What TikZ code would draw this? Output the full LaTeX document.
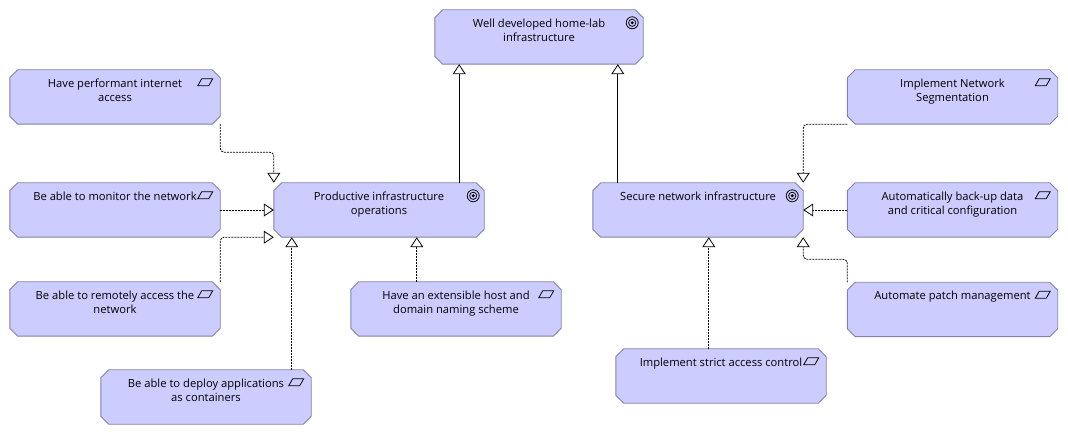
\documentclass[tikz,border=0pt]{standalone}
\usepackage{fontspec}
\setmainfont{Open Sans}
\usetikzlibrary{arrows.meta,calc,backgrounds}
\definecolor{boxfill}{RGB}{204,204,255}
\definecolor{boxline}{RGB}{130,130,170}
\newcommand\chamf[1]{%
  \filldraw[boxst] ($(#1.north west)+(8,0)$) -- ($(#1.north east)+(-8,0)$) -- ($(#1.north east)+(0,8)$) -- ($(#1.south east)+(0,-8)$) -- ($(#1.south east)+(-8,0)$) -- ($(#1.south west)+(8,0)$) -- ($(#1.south west)+(0,-8)$) -- ($(#1.north west)+(0,8)$) -- cycle;}
\newcommand\reqicon[1]{%
  \draw[icon] ($(#1.north east)+(-22.5,16)$) -- ($(#1.north east)+(-18.5,9)$) -- ($(#1.north east)+(-7.5,9)$) -- ($(#1.north east)+(-11.5,16)$) -- cycle;}
\newcommand\goalicon[1]{%
  \draw[icon] ($(#1.north east)+(-11,13)$) circle[radius=6];
  \draw[icon] ($(#1.north east)+(-11,13)$) circle[radius=3.6];
  \fill ($(#1.north east)+(-11,13)$) circle[radius=1.6];}
\begin{document}
\begin{tikzpicture}[x=1pt,y=-1pt,
  elem/.style={rectangle, draw=none, inner sep=0pt, minimum width=210pt, minimum height=54pt},
  txt/.style={anchor=north, yshift=-8.5pt, align=center, inner sep=0pt, font=\fontsize{11.2}{14}\selectfont},
  boxst/.style={fill=boxfill, draw=boxline, line width=0.9pt},
  icon/.style={draw=black, line width=0.8pt},
  real/.style={draw=black, line width=0.8pt, dash pattern=on 2pt off 1pt, rounded corners=4pt, -{Triangle[open, length=10pt, width=13pt, line width=0.8pt]}},
  spec/.style={draw=black, line width=0.8pt, -{Triangle[open, length=10pt, width=13pt, line width=0.8pt]}}]
\useasboundingbox (0,0) rectangle (1068,435);

\node[elem, minimum width=208pt] (well) at (539,37) {};
\node[elem] (perf) at (115,97) {};
\node[elem] (mon) at (115,210) {};
\node[elem] (prod) at (379,210) {};
\node[elem] (remote) at (115,309) {};
\node[elem] (deploy) at (206,397) {};
\node[elem] (ext) at (456,309) {};
\node[elem] (secure) at (698,210) {};
\node[elem] (seg) at (952.5,97) {};
\node[elem] (backup) at (952.5,210) {};
\node[elem] (patch) at (952.5,309.5) {};
\node[elem] (strict) at (721,376) {};

\begin{pgfonlayer}{background}
  \fill[white] (0,0) rectangle (1068,435);
  \foreach \n in {well,perf,mon,prod,remote,deploy,ext,secure,seg,backup,patch,strict} {\chamf{\n}}
\end{pgfonlayer}

\node[txt] at (well.north) {Well developed home-lab\\infrastructure};
\node[txt] at (perf.north) {Have performant internet\\access};
\node[txt] at (mon.north) {Be able to monitor the network};
\node[txt] at (prod.north) {Productive infrastructure\\operations};
\node[txt] at (remote.north) {Be able to remotely access the\\network};
\node[txt] at (deploy.north) {Be able to deploy applications\\as containers};
\node[txt] at (ext.north) {Have an extensible host and\\domain naming scheme};
\node[txt] at (secure.north) {Secure network infrastructure};
\node[txt] at (seg.north) {Implement Network\\Segmentation};
\node[txt] at (backup.north) {Automatically back-up data\\and critical configuration};
\node[txt] at (patch.north) {Automate patch management};
\node[txt] at (strict.north) {Implement strict access control};

\goalicon{well}
\goalicon{prod}
\goalicon{secure}
\foreach \n in {perf,mon,remote,deploy,ext,seg,backup,patch,strict} {\reqicon{\n}}

% connectors
\draw[real] (perf.east |- perf.south) -- ++(0,28) -| (prod.west |- prod.north);
\draw[real] (mon.east) -- (prod.west);
\draw[real] (remote.east |- remote.north) |- (prod.west |- prod.south);
\coordinate (p4) at ($(prod.west |- prod.south)+(18,0)$);
\draw[real] (p4 |- deploy.north) -- (p4);
\coordinate (p5) at ($(prod.west |- prod.south)+(143,0)$);
\draw[real] (p5 |- ext.north) -- (p5);
\coordinate (p6) at ($(prod.east |- prod.north)+(-25,0)$);
\draw[spec] (p6) -- (p6 |- well.south);
\coordinate (p7) at ($(secure.west |- secure.north)+(25,0)$);
\draw[spec] (p7) -- (p7 |- well.south);
\draw[real] (seg.west |- seg.south) -| (secure.east |- secure.north);
\draw[real] (backup.west) -- (secure.east);
\draw[real] (patch.west |- patch.north) -- ++(0,-23) -| (secure.east |- secure.south);
\coordinate (p11) at ($(secure.west |- secure.south)+(116,0)$);
\draw[real] (p11 |- strict.north) -- (p11);
\end{tikzpicture}
\end{document}
